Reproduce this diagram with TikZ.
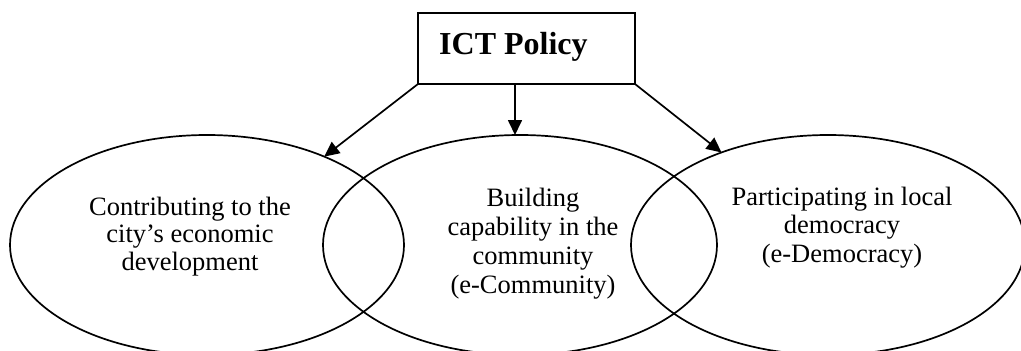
\documentclass[tikz,border=0pt]{standalone}
\usepackage{fontspec}
\setmainfont{Liberation Serif}
\usetikzlibrary{shapes.geometric,arrows.meta}
\begin{document}
\begin{tikzpicture}[x=1pt,y=-1pt,
  oval/.style={draw, ellipse, line width=1.7pt, minimum width=394pt, minimum height=220pt, inner sep=0pt, outer sep=0pt},
  lbl/.style={anchor=base, inner sep=0pt},
  arr/.style={-{Triangle[length=15pt,width=14pt]}, line width=1.7pt},
  boxst/.style={draw, line width=1.7pt, minimum width=217pt, minimum height=71pt, inner sep=0pt, outer sep=0pt}]
\useasboundingbox (0,0) rectangle (1021,351);
\node[oval] (e1) at (207,245) {};
\node[oval] (e2) at (520,245) {};
\node[oval] (e3) at (828,245) {};
\node[boxst] (box) at (526.5,48.5) {};
\node[anchor=base west, inner sep=0pt, font=\bfseries\fontsize{32}{36}\selectfont] (title) at (439,54) {ICT Policy};
\node[lbl, font=\fontsize{26.5}{27.5}\selectfont] (t1) at (190,215) {\begin{tabular}[t]{@{}c@{}}Contributing to the\\ city’s economic\\ development\end{tabular}};
\node[lbl, font=\fontsize{26.5}{29}\selectfont] (t2) at (533,206) {\begin{tabular}[t]{@{}c@{}}Building\\ capability in the\\ community\\ (e-Community)\end{tabular}};
\node[lbl, font=\fontsize{26.5}{28.5}\selectfont] (t3) at (842,205) {\begin{tabular}[t]{@{}c@{}}Participating in local\\ democracy\\ (e-Democracy)\end{tabular}};
\draw[arr] (box.south west) -- (e1.37.5);
\draw[arr] ([xshift=-11.5pt]box.south) -- ([xshift=-5pt]e2.north);
\draw[arr] (box.south east) -- (e3.139);
\end{tikzpicture}
\end{document}
